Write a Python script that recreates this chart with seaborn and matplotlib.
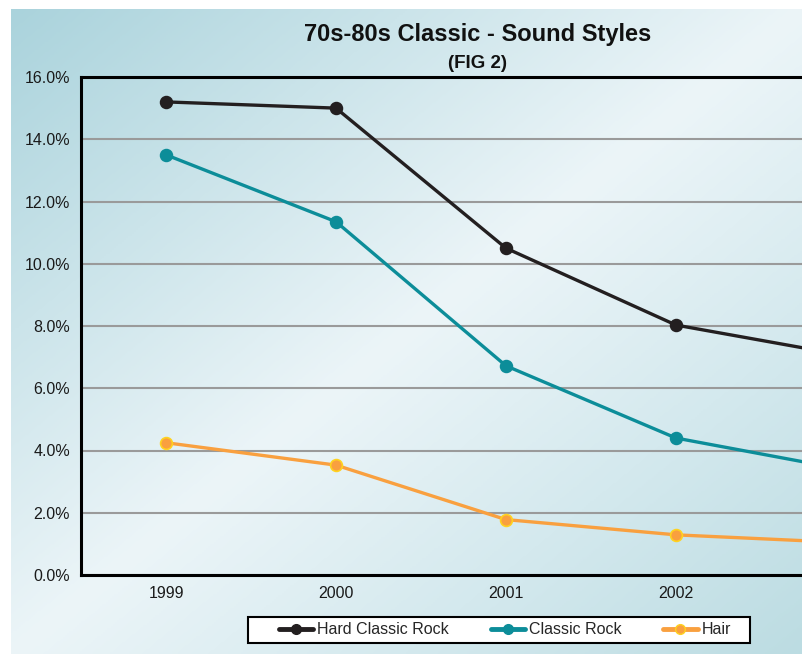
import numpy as np
import pandas as pd
import matplotlib
matplotlib.use("Agg")
import matplotlib.pyplot as plt
from matplotlib.colors import LinearSegmentedColormap
from matplotlib.lines import Line2D
from matplotlib.patches import Rectangle
import seaborn as sns

# --- data -------------------------------------------------------------
years = ["1999", "2000", "2001", "2002", "2003"]
hard_classic_rock = [15.2, 15.0, 10.5, 8.03, 7.05]
classic_rock = [13.5, 11.35, 6.72, 4.40, 3.38]
hair = [4.25, 3.53, 1.78, 1.29, 1.04]
series_names = ["Hard Classic Rock", "Classic Rock", "Hair"]
y_ticks = [0, 2, 4, 6, 8, 10, 12, 14, 16]

line_colors = {"Hard Classic Rock": "#231f20",
               "Classic Rock": "#0c8d99",
               "Hair": "#f9a03f"}
edge_colors = {"Hard Classic Rock": "#231f20",
               "Classic Rock": "#0c8d99",
               "Hair": "#ffd21f"}

rows = []
for name, vals in zip(series_names, [hard_classic_rock, classic_rock, hair]):
    for i, v in enumerate(vals):
        rows.append({"pos": i, "year": years[i], "series": name, "value": v})
df = pd.DataFrame(rows)

sns.set_theme(style="white")
plt.rcParams["font.family"] = ["Liberation Sans", "DejaVu Sans"]

W, H = 802, 654
fig = plt.figure(figsize=(W / 100, H / 100), dpi=100)
fig.patch.set_facecolor("white")

# diagonal gradient backdrop: blue corners, pale band across the middle
bg = fig.add_axes([11 / W, 0, 1 - 11 / W, (H - 9) / H], zorder=0)
gx, gy = np.meshgrid(np.linspace(0, 1, 400), np.linspace(0, 1, 330))
t = (gx + gy) / 2.0
cmap = LinearSegmentedColormap.from_list(
    "bg", [(0.0, "#aad3dc"), (0.25, "#cbe4ea"), (0.5, "#ecf5f8"),
           (0.75, "#d4e9ee"), (1.0, "#bcdce2")])
bg.imshow(t, cmap=cmap, aspect="auto", extent=[0, 1, 0, 1], origin="upper",
          vmin=0, vmax=1, interpolation="bilinear")
bg.set_axis_off()

# main plot area (extends past the right edge of the figure)
left, bottom_px, top_px, cat_w = 81, 575, 77, 170
ax = fig.add_axes([left / W, (H - bottom_px) / H, cat_w * len(years) / W,
                   (bottom_px - top_px) / H], zorder=1)
ax.set_facecolor("none")

for name in series_names:
    sub = df[df["series"] == name]
    sns.lineplot(data=sub, x="pos", y="value", ax=ax, color=line_colors[name],
                 lw=2.4, marker="o", markersize=8.5,
                 markerfacecolor=line_colors[name],
                 markeredgecolor=edge_colors[name], markeredgewidth=1.2,
                 legend=False, zorder=3)

ax.set_xlim(-0.5, len(years) - 0.5)
ax.set_ylim(0, 16)
ax.set_yticks(y_ticks)
ax.set_yticklabels([f"{v:.1f}%" for v in y_ticks])
# only the categories inside the visible area carry a label
shown = len(years) - 1
ax.set_xticks(range(shown))
ax.set_xticklabels(years[:shown])
ax.set_xticks(np.arange(-0.5, len(years), 1), minor=True)
ax.tick_params(axis="x", which="major", length=0, pad=8, labelsize=11.5,
               labelcolor="#1a1a1a")
ax.tick_params(axis="x", which="minor", length=5, width=1.2, color="black",
               direction="out")
ax.tick_params(axis="y", which="major", length=5, width=1.2, color="black",
               direction="out", pad=3, labelsize=11.5, labelcolor="#1a1a1a")
ax.set_xlabel("")
ax.set_ylabel("")
ax.yaxis.grid(True, color="#9a9a9a", lw=1.5)
ax.set_axisbelow(True)
for sp in ax.spines.values():
    sp.set_visible(True)
    sp.set_color("black")
    sp.set_linewidth(2.2)

# titles
fig.text(478 / W, 1 - 41 / H, "70s-80s Classic - Sound Styles", ha="center",
         va="baseline", fontsize=17, fontweight="bold", color="#111111")
fig.text(477 / W, 1 - 68 / H, "(FIG 2)", ha="center", va="baseline",
         fontsize=13.5, fontweight="bold", color="#111111")

# legend box
box = Rectangle((248 / W, 1 - 643 / H), (750 - 248) / W, (643 - 617) / H,
                transform=fig.transFigure, facecolor="white",
                edgecolor="black", lw=1.5, zorder=4)
fig.add_artist(box)
handles = [Line2D([0], [0], color=line_colors[n], lw=3.5, marker="o",
                  markersize=7, markerfacecolor=line_colors[n],
                  markeredgecolor=edge_colors[n], markeredgewidth=1.0)
           for n in series_names]
leg = fig.legend(handles, series_names, loc="center",
                 bbox_to_anchor=(505 / W, 1 - 630 / H),
                 ncol=3, frameon=False, fontsize=11.5, handlelength=2.15,
                 handletextpad=0.25, borderpad=0, borderaxespad=0,
                 columnspacing=2.6)
leg.set_zorder(5)

fig.savefig("out.png", dpi=100, facecolor=fig.get_facecolor())
